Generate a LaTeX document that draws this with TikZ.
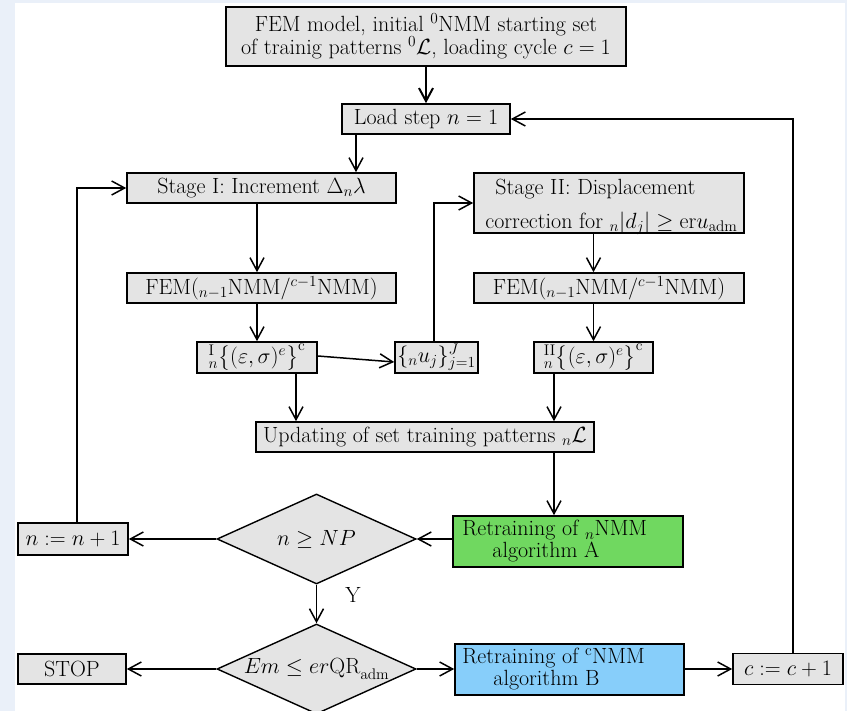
\RequirePackage{fix-cm}
\documentclass[tikz,border=0pt]{standalone}
\usepackage{amsmath}
\usetikzlibrary{arrows.meta,shapes.geometric,calc}
\definecolor{boxgray}{RGB}{228,228,228}
\definecolor{greenA}{RGB}{112,216,96}
\definecolor{blueB}{RGB}{135,206,250}
\definecolor{bgblue}{RGB}{234,240,249}
\tikzset{
  box/.style={draw, fill=boxgray, line width=1.6pt, inner sep=0pt},
  dia/.style={diamond, draw, fill=boxgray, line width=1.4pt, inner sep=0pt, aspect=2.2, minimum width=199pt, minimum height=90pt},
  arr/.style={-{Straight Barb[length=13pt,width=14pt]}, line width=1.5pt},
  plain/.style={inner sep=0pt}
}
\begin{document}
\begin{tikzpicture}[x=1pt,y=-1pt,font=\fontsize{22}{25.5}\selectfont]
\useasboundingbox (0,0) rectangle (847,711);
\fill[bgblue] (0,0) rectangle (847,711);
\fill[white] (15,3) rectangle (845,711);

% nodes
\node[box, line width=2pt, minimum width=400pt, minimum height=59pt, align=center] (top) at (426,36.5)
  {FEM model, initial ${}^0$NMM starting set\\[-2pt]of trainig patterns ${}^0\mathcal{L}$, loading cycle $c=1$};
\node[box, minimum width=168pt, minimum height=30pt] (load) at (426,119) {Load step $n=1$};
\node[box, minimum width=269pt, minimum height=30pt] (st1) at (261.5,188) {Stage I: Increment $\Delta_n\lambda$};
\node[box, minimum width=269pt, minimum height=30pt] (femL) at (261.5,288) {FEM(${}_{n-1}$NMM/${}^{c-1}$NMM)};
\node[box, minimum width=120pt, minimum height=31pt] (strL) at (257,357.5) {${}^{\mathrm{I}}_{n}\bigl\{(\varepsilon,\sigma)^e\bigr\}^{\mathrm{c}}$};
\node[box, minimum width=83pt, minimum height=31pt] (u) at (436.5,357.5) {$\{{}_n u_j\}_{j=1}^{J}$};
\node[box, minimum width=270pt, minimum height=60pt] (st2) at (609,203) {};
\node[plain, align=left, anchor=west] (st2t) at ([xshift=12pt,yshift=-4pt]st2.west) {\hspace*{10pt}Stage II: Displacement\\[8pt]correction for ${}_n|d_j|\geq\mathrm{er}u_{\mathrm{adm}}$};
\node[box, minimum width=270pt, minimum height=30pt] (femR) at (609,288) {FEM(${}_{n-1}$NMM/${}^{c-1}$NMM)};
\node[box, minimum width=119pt, minimum height=31pt] (strR) at (593.5,357.5) {${}^{\mathrm{II}}_{n}\bigl\{(\varepsilon,\sigma)^e\bigr\}^{\mathrm{c}}$};
\node[box, minimum width=338pt, minimum height=30pt] (upd) at (425,437) {Updating of set training patterns ${}_n\mathcal{L}$};
\node[box, fill=greenA, minimum width=230pt, minimum height=51pt] (retA) at (568,541.5) {};
\node[plain, align=left, anchor=west] (retAt) at ([xshift=10pt]retA.west) {Retraining of ${}_n$NMM\\[-3.5pt]\hspace*{30pt}algorithm A};
\node[dia] (d1) at (316.5,539) {$n\geq NP$};
\node[box, minimum width=110pt, minimum height=32pt] (ninc) at (73,539) {$n:=n+1$};
\node[plain] (ylab) at (353,595) {Y};
\node[dia] (d2) at (316.5,669) {$Em\leq er\mathrm{QR}_{\mathrm{adm}}$};
\node[box, minimum width=108pt, minimum height=30pt] (stop) at (72,669) {STOP};
\node[box, fill=blueB, minimum width=229pt, minimum height=51pt] (retB) at (569.5,669.5) {};
\node[plain, align=left, anchor=west] (retBt) at ([xshift=8pt]retB.west) {Retraining of ${}^{\mathrm{c}}$NMM\\[-3.5pt]\hspace*{31pt}algorithm B};
\node[box, minimum width=110pt, minimum height=31pt] (cinc) at (788,669) {$c:=c+1$};

% connectors
\draw[arr, line width=2pt] (top.south -| load.north) -- (load.north);
\draw[arr] ([xshift=-70pt]load.south) -- ([xshift=-70pt]load.south |- st1.north);
\draw[arr] (strL.north |- st1.south) -- (strL.north |- femL.north);
\draw[arr] (strL.north |- femL.south) -- (strL.north);
\draw[arr] ([yshift=1.5pt]strL.east) -- ([yshift=-4.5pt]u.west);
\draw[arr] ([xshift=-2.5pt]u.north) |- (st2.west);
\draw[arr] (strR.north |- st2.south) -- (strR.north |- femR.north);
\draw[arr] (strR.north |- femR.south) -- (strR.north);
\draw[arr] ([xshift=39pt]strL.south) -- ([xshift=39pt]strL.south |- upd.north);
\draw[arr] ([xshift=-39.5pt]strR.south) -- ([xshift=-39.5pt]strR.south |- upd.north);
\draw[arr] ([xshift=129pt]upd.south) -- ([xshift=129pt]upd.south |- retA.north);
\draw[arr] (retA.west |- d1.east) -- (d1.east);
\draw[arr] (d1.west) -- (ninc.east);
\draw[arr] ([xshift=4pt]ninc.north) |- (st1.west);
\draw[arr] (d1.south) -- (d2.north);
\draw[arr] (d2.west) -- (stop.east);
\draw[arr] (d2.east) -- (retB.west |- d2.east);
\draw[arr] (retB.east |- cinc.west) -- (cinc.west);
\draw[arr] ([xshift=5pt]cinc.north) |- (load.east);
\end{tikzpicture}
\end{document}
